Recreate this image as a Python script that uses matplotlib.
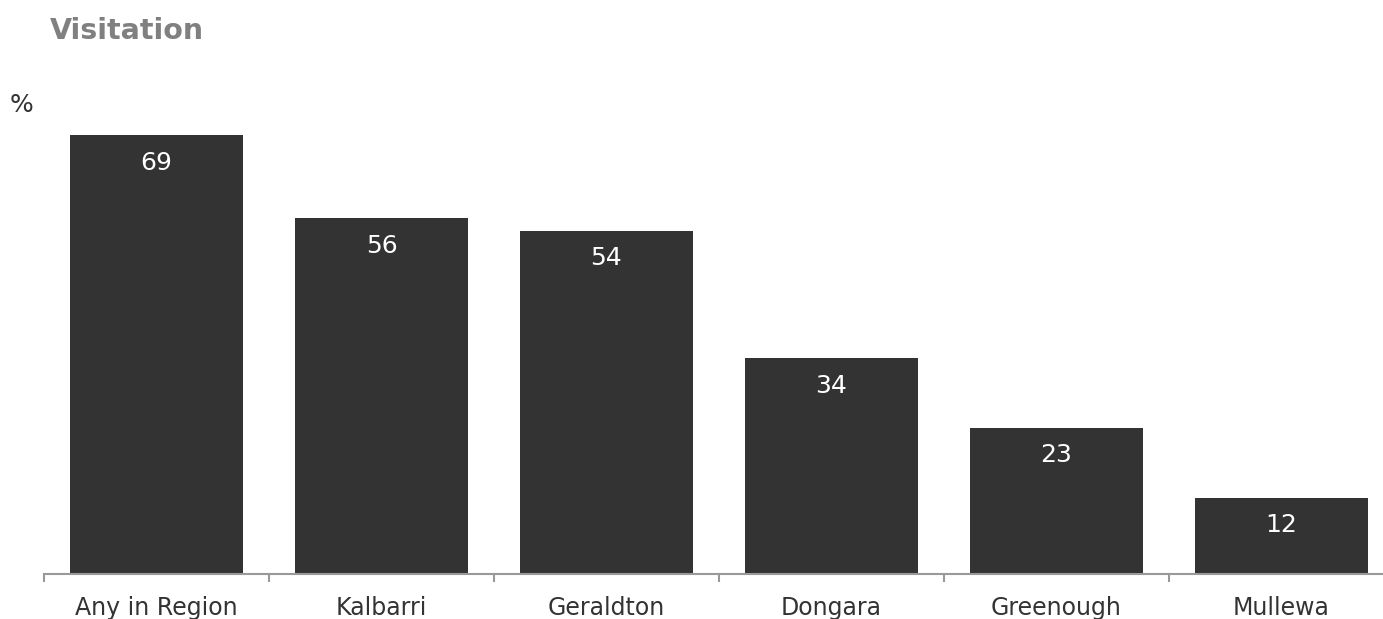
import numpy as np
import matplotlib.pyplot as plt

# Visitation by area (%)
places = ['Any in Region', 'Kalbarri', 'Geraldton', 'Dongara', 'Greenough', 'Mullewa']
visits = [69, 56, 54, 34, 23, 12]

W, H = 1383, 619
fig = plt.figure(figsize=(W / 100, H / 100), dpi=100)
ax = fig.add_axes([44 / W, 1 - 574 / H, 1350 / W, 474 / H])

x = np.arange(len(places))
bars = ax.bar(x, visits, width=0.77, color='#333333')
ax.set_xlim(-0.5, len(places) - 0.5)
ax.set_ylim(0, 474 / 6.36)

for b, v in zip(bars, visits):
    ax.annotate(str(v), (b.get_x() + b.get_width() / 2, v), xytext=(0, -20),
                textcoords='offset points', ha='center', va='center',
                color='white', fontsize=18)

for s in ['top', 'right', 'left']:
    ax.spines[s].set_visible(False)
ax.spines['bottom'].set_color('#999999')
ax.spines['bottom'].set_linewidth(1.5)
ax.set_yticks([])

# tick marks sit between categories, labels centred under bars
ax.set_xticks(np.arange(-0.5, len(places), 1.0))
ax.set_xticklabels([])
ax.tick_params(axis='x', which='major', direction='out', length=6, width=1.5, color='#999999')
ax.set_xticks(x, minor=True)
ax.set_xticklabels(places, minor=True, fontsize=17, color='#333333')
ax.tick_params(axis='x', which='minor', length=0, pad=15.5)

fig.text(50 / W, 1 - 31 / H, 'Visitation', fontsize=20.5, fontweight='bold',
         color='#808080', ha='left', va='center')
fig.text(10 / W, 1 - 105 / H, '%', fontsize=18, color='#333333', ha='left', va='center')

fig.savefig('out.png', dpi=100)
